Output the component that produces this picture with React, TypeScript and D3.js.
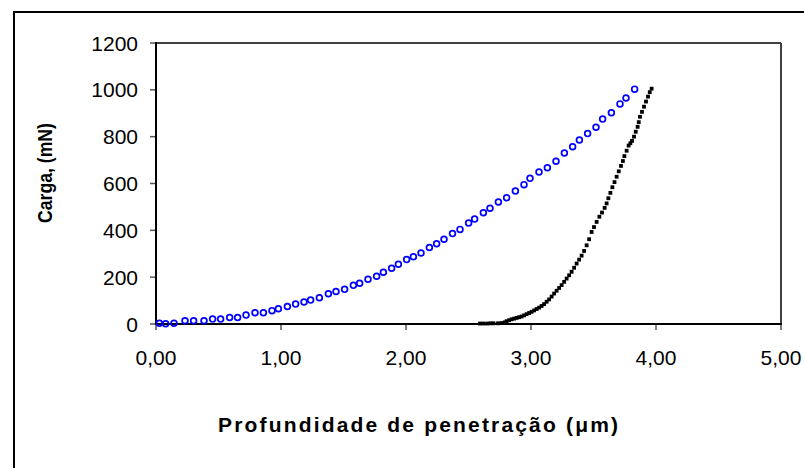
import React from "react";
import * as d3 from "d3";

const loadX = [0.027, 0.077, 0.144, 0.232, 0.301, 0.384, 0.453, 0.517, 0.589, 0.653, 0.72, 0.792, 0.859, 0.928, 0.979, 1.051, 1.117, 1.184, 1.237, 1.307, 1.379, 1.44, 1.509, 1.579, 1.629, 1.696, 1.765, 1.819, 1.885, 1.939, 2.005, 2.059, 2.12, 2.187, 2.245, 2.304, 2.372, 2.432, 2.501, 2.549, 2.619, 2.672, 2.739, 2.805, 2.875, 2.944, 2.992, 3.064, 3.131, 3.2, 3.267, 3.333, 3.387, 3.453, 3.52, 3.573, 3.643, 3.712, 3.76, 3.829];
const loadY = [3, 1, 3, 14, 14, 14, 21, 21, 28, 28, 38, 48, 48, 57, 65, 75, 85, 94, 102, 112, 129, 139, 148, 165, 174, 191, 204, 221, 238, 255, 275, 287, 303, 327, 343, 362, 386, 404, 431, 448, 475, 494, 521, 539, 568, 595, 622, 649, 667, 695, 730, 757, 786, 813, 840, 875, 902, 940, 965, 1003];

const unloadX = [2.592, 2.62, 2.65, 2.677, 2.7, 2.736, 2.765, 2.79, 2.805, 2.825, 2.845, 2.865, 2.885, 2.905, 2.925, 2.945, 2.965, 2.985, 3.005, 3.025, 3.045, 3.065, 3.085, 3.105, 3.125, 3.145, 3.165, 3.185, 3.205, 3.225, 3.245, 3.265, 3.285, 3.305, 3.325, 3.345, 3.365, 3.385, 3.405, 3.425, 3.445, 3.465, 3.485, 3.504, 3.525, 3.547, 3.568, 3.589, 3.605, 3.619, 3.635, 3.651, 3.668, 3.685, 3.702, 3.72, 3.735, 3.747, 3.765, 3.781, 3.795, 3.808, 3.824, 3.838, 3.853, 3.862, 3.872, 3.888, 3.904, 3.92, 3.936, 3.95, 3.965];
const unloadY = [2, 2, 2, 3, 3, 3, 4, 7, 12, 16, 20, 23, 26, 29, 32, 37, 42, 47, 52, 58, 64, 70, 77, 85, 95, 105, 117, 130, 142, 154, 166, 180, 194, 208, 223, 240, 258, 275, 292, 312, 336, 362, 393, 414, 436, 458, 476, 496, 515, 537, 560, 584, 606, 629, 652, 675, 696, 717, 740, 762, 772, 782, 800, 821, 842, 862, 885, 906, 928, 950, 971, 990, 1005];

const xTicks = [0, 1, 2, 3, 4, 5];
const yTicks = [0, 200, 400, 600, 800, 1000, 1200];
const xTitle = "Profundidade de penetração (μm)";
const yTitle = "Carga, (mN)";

const FONT = "'Liberation Sans', Arial, Helvetica, sans-serif";

export default function App() {
  const W = 804, H = 468;
  const left = 156, right = 781, top = 43, bottom = 324;
  const x = d3.scaleLinear().domain([0, 5]).range([left, right]);
  const y = d3.scaleLinear().domain([0, 1200]).range([bottom, top]);
  const fmt = (v: number) => v.toFixed(2).replace(".", ",");

  return (
    <svg width={W} height={H} style={{ position: "absolute", left: 0, top: 0, background: "#fff" }} fontFamily={FONT}>
      <rect x={0} y={0} width={W} height={H} fill="#fff" />
      {/* outer frame */}
      <line x1={13} x2={W} y1={12} y2={12} stroke="#000" strokeWidth={2} />
      <line x1={14} x2={14} y1={11} y2={H} stroke="#000" strokeWidth={2} />

      {/* plot frame */}
      <line x1={left} x2={right} y1={top} y2={top} stroke="#404040" strokeWidth={2} />
      <line x1={right} x2={right} y1={top} y2={bottom} stroke="#404040" strokeWidth={2} />

      {/* ticks */}
      {yTicks.map((t) => (
        <g key={"y" + t}>
          <line x1={left - 6} x2={left} y1={y(t)} y2={y(t)} stroke="#555" strokeWidth={1.5} />
          <text x={138} y={y(t) + 7.5} textAnchor="end" fontSize={21} fill="#000">{t}</text>
        </g>
      ))}
      {xTicks.map((t) => (
        <g key={"x" + t}>
          <line x1={x(t)} x2={x(t)} y1={bottom} y2={bottom + 6} stroke="#555" strokeWidth={1.5} />
          <text x={x(t)} y={365} textAnchor="middle" fontSize={21} fill="#000">{fmt(t)}</text>
        </g>
      ))}

      {/* axes */}
      <line x1={left} x2={left} y1={top - 1} y2={bottom + 1} stroke="#000" strokeWidth={2} />
      <line x1={left - 1} x2={right + 1} y1={bottom} y2={bottom} stroke="#000" strokeWidth={2} />

      {/* unloading */}
      {unloadX.map((v, i) => (
        <rect key={"u" + i} x={x(v) - 1.9} y={y(unloadY[i]) - 1.9} width={3.8} height={3.8} fill="#000" />
      ))}
      {/* loading */}
      {loadX.map((v, i) => (
        <circle key={"l" + i} cx={x(v)} cy={y(loadY[i])} r={2.9} fill="none" stroke="#0000ff" strokeWidth={1.7} />
      ))}

      {/* titles */}
      <text x={418} y={432} textAnchor="middle" fontSize={21} fontWeight="bold" textLength={400} lengthAdjust="spacing" fill="#000">{xTitle}</text>
      <text transform="translate(52,173) rotate(-90)" textAnchor="middle" fontSize={21} fontWeight="bold" textLength={100} lengthAdjust="spacingAndGlyphs" fill="#000">{yTitle}</text>
    </svg>
  );
}
